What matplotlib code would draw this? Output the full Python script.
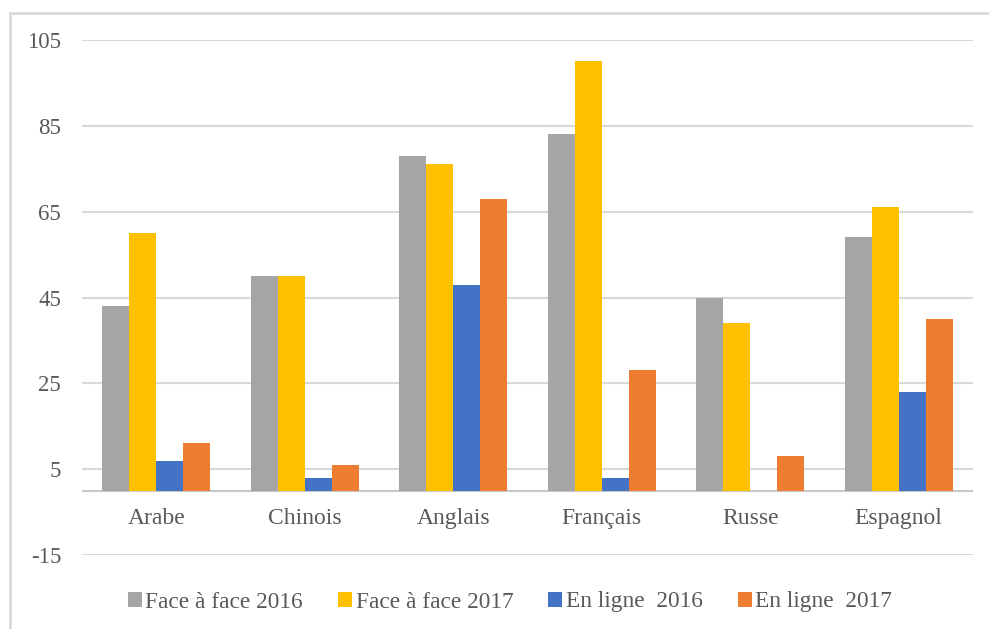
import numpy as np
import matplotlib.pyplot as plt
from matplotlib.patches import Rectangle

plt.rcParams['font.family'] = ['Liberation Serif', 'DejaVu Serif']
plt.rcParams['axes.unicode_minus'] = False

# data
langues = ['Arabe', 'Chinois', 'Anglais', 'Français', 'Russe', 'Espagnol']
face_2016 = [43, 50, 78, 83, 45, 59]
face_2017 = [60, 50, 76, 100, 39, 66]
ligne_2016 = [7, 3, 48, 3, 0, 23]
ligne_2017 = [11, 6, 68, 28, 8, 40]
series_names = ['Face à face 2016', 'Face à face 2017', 'En ligne  2016', 'En ligne  2017']
y_ticks = [-15, 5, 25, 45, 65, 85, 105]

colors = ['#A5A5A5', '#FFC000', '#4472C4', '#ED7D31']
txt_col = '#595959'
grid_col = '#D9D9D9'

fig = plt.figure(figsize=(9.89, 6.29), dpi=100)
W, H = 989, 629
ax = fig.add_axes([82 / W, 1 - 555 / H, (973 - 82) / W, (555 - 40) / H])

# outer chart border (partly cut off in the original)
fig.patches.append(Rectangle((10 / W, -0.1), 1.2, 1 - 13 / H + 0.1,
                             transform=fig.transFigure, fill=False,
                             edgecolor=grid_col, linewidth=2))

x = np.arange(len(langues))
w = 0.182
all_series = [face_2016, face_2017, ligne_2016, ligne_2017]
handles = []
for i, vals in enumerate(all_series):
    b = ax.bar(x + (i - 1.5) * w, vals, width=w, color=colors[i], zorder=3,
               label=series_names[i])
    handles.append(b)

ax.set_xlim(-0.5, len(langues) - 0.5)
ax.set_ylim(-15, 105)
ax.set_yticks(y_ticks)
ax.yaxis.grid(True, color=grid_col, linewidth=1.5, zorder=0)
ax.axhline(0, color='#C8C8C8', linewidth=1.5, zorder=2)
ax.set_xticks([])
ax.tick_params(axis='y', length=0, pad=15, labelsize=16.5, labelcolor=txt_col)
for s in ax.spines.values():
    s.set_visible(False)

for xi, name in zip(x, langues):
    ax.text(xi, -6.6, name, ha='center', va='center', fontsize=17, color=txt_col)

leg = fig.legend(handles=handles, loc='center', bbox_to_anchor=(510 / W, 1 - 602 / H),
                 ncol=4, frameon=False, fontsize=16.8, handlelength=0.6,
                 handleheight=0.6, handletextpad=0.15, columnspacing=1.5)
for t in leg.get_texts():
    t.set_color(txt_col)

fig.savefig('out.png', dpi=100, facecolor='white')
